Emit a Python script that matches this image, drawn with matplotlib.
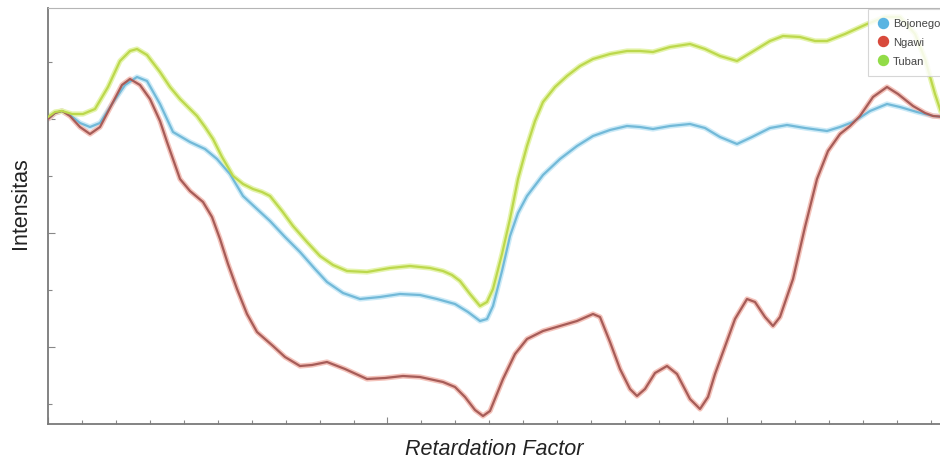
import matplotlib
matplotlib.use("Agg")
import matplotlib.pyplot as plt
from matplotlib.lines import Line2D
from matplotlib.ticker import FixedLocator, NullFormatter
import numpy as np

# Kromatogram tiga daerah (satuan sembarang)
rf_bojonegoro = [0, 7, 14, 22, 32, 42, 52, 64, 77, 89, 99, 112, 125, 142, 157, 169, 182, 195,
                 209, 222, 237, 252, 267, 279, 295, 312, 332, 352, 372, 389, 407, 420, 432,
                 439, 445, 454, 462, 470, 479, 495, 512, 529, 545, 562, 579, 592, 605, 622,
                 642, 657, 672, 689, 704, 722, 739, 757, 779, 792, 805, 822, 839, 852, 869,
                 885, 897]
int_bojonegoro = [305, 311, 313, 309, 301, 297, 301, 320, 339, 347, 343, 320, 292, 282, 275,
                  265, 250, 228, 215, 203, 187, 172, 155, 142, 131, 125, 127, 130, 129, 125,
                  120, 112, 103, 105, 118, 153, 188, 211, 228, 249, 265, 278, 288, 294, 298,
                  297, 295, 298, 300, 296, 287, 280, 287, 296, 299, 296, 293, 297, 302, 313,
                  320, 317, 312, 308, 307]

rf_ngawi = [0, 7, 14, 22, 32, 42, 52, 64, 74, 82, 92, 102, 112, 119, 132, 142, 155, 164, 172,
            180, 189, 199, 209, 217, 225, 237, 252, 264, 279, 297, 319, 337, 355, 372, 395,
            407, 417, 427, 435, 442, 455, 467, 479, 495, 512, 529, 545, 552, 562, 572, 582,
            589, 597, 607, 619, 629, 642, 652, 660, 667, 675, 687, 699, 707, 717, 725, 732,
            745, 757, 769, 780, 792, 802, 812, 825, 839, 850, 865, 877, 885, 897]
int_ngawi = [305, 311, 313, 308, 297, 290, 297, 320, 339, 345, 339, 325, 303, 282, 245, 233,
             222, 207, 185, 160, 135, 110, 92, 85, 78, 67, 58, 59, 62, 55, 45, 46, 48, 47, 42,
             37, 27, 14, 8, 13, 45, 70, 85, 93, 98, 103, 110, 107, 82, 55, 35, 28, 35, 51, 58,
             50, 25, 15, 27, 50, 72, 105, 125, 122, 107, 98, 107, 145, 197, 245, 273, 290, 298,
             308, 327, 337, 330, 318, 311, 308, 307]

rf_tuban = [0, 7, 14, 24, 35, 47, 60, 72, 82, 89, 99, 112, 122, 132, 149, 157, 165, 174, 185,
            195, 205, 214, 222, 234, 245, 259, 272, 285, 299, 319, 342, 362, 382, 395, 404,
            412, 422, 432, 439, 445, 454, 462, 470, 479, 487, 495, 507, 519, 532, 545, 562,
            579, 592, 605, 622, 642, 657, 672, 689, 704, 722, 735, 752, 767, 779, 797, 819,
            837, 852, 867, 877, 887, 897]
int_tuban = [307, 312, 313, 310, 310, 315, 337, 363, 373, 375, 369, 352, 337, 325, 308, 297,
             285, 267, 248, 240, 235, 232, 228, 213, 198, 182, 168, 159, 153, 152, 156, 158,
             156, 153, 149, 143, 130, 118, 122, 135, 170, 205, 245, 278, 303, 322, 337, 348,
             358, 365, 370, 373, 373, 372, 377, 380, 375, 368, 363, 372, 383, 388, 387, 383,
             383, 390, 400, 407, 407, 390, 365, 330, 300]

seri = [
    ("Bojonegoro", rf_bojonegoro, int_bojonegoro, "#72b9d8", "#cbeaf7", "#5ab4e2"),
    ("Ngawi", rf_ngawi, int_ngawi, "#a65c58", "#f4c3bb", "#d84a3c"),
    ("Tuban", rf_tuban, int_tuban, "#bcd84c", "#e5f4ad", "#92dc48"),
]

FONT_LABEL = ["Liberation Sans", "DejaVu Sans"]

fig = plt.figure(figsize=(9.4, 4.64), dpi=100)
ax = fig.add_axes([48 / 940, 39 / 464, 912 / 940, 416 / 464])

for nama, x, y, inti, halo, _ in seri:
    assert len(x) == len(y), nama
    ax.plot(x, y, color=halo, lw=3.8, solid_joinstyle="round", solid_capstyle="round", zorder=2)
    ax.plot(x, y, color=inti, lw=1.6, solid_joinstyle="round", solid_capstyle="round", zorder=3)

ax.set_xlim(0, 912)
ax.set_ylim(0, 416)

ax.xaxis.set_major_locator(FixedLocator(np.arange(0, 912, 339.5)))
ax.xaxis.set_minor_locator(FixedLocator(np.arange(0, 912, 33.95)))
ax.yaxis.set_major_locator(FixedLocator(np.arange(77, 416, 114)))
ax.yaxis.set_minor_locator(FixedLocator(np.arange(20, 416, 114)))
ax.xaxis.set_major_formatter(NullFormatter())
ax.yaxis.set_major_formatter(NullFormatter())
ax.tick_params(which="both", direction="in", color="#888888", width=0.8)
ax.tick_params(which="major", length=5)
ax.tick_params(which="minor", length=3)
ax.tick_params(axis="both", which="both", top=False, right=False)

for lado in ("left", "bottom"):
    ax.spines[lado].set_color("#7a7a7a")
    ax.spines[lado].set_linewidth(1.3)
ax.spines["top"].set_color("#b5b5b5")
ax.spines["top"].set_linewidth(0.8)
ax.spines["right"].set_visible(False)

ax.set_xlabel("Retardation Factor", family=FONT_LABEL, fontsize=15.5, style="italic",
              color="#222222", va="center")
ax.xaxis.set_label_coords((494 - 48) / 912, (425 - 450) / 416)
ax.set_ylabel("Intensitas", family=FONT_LABEL, fontsize=15.5, color="#222222", va="center")
ax.yaxis.set_label_coords((20 - 48) / 912, (425 - 203) / 416)

handles = [Line2D([], [], ls="none", marker="o", markersize=7.2, markerfacecolor=mk,
                  markeredgecolor=mk, label=nama) for nama, _, _, _, _, mk in seri]
leg = fig.legend(handles=handles, loc="upper left", bbox_to_anchor=(868 / 940, 1 - 10 / 464),
                 bbox_transform=fig.transFigure, borderaxespad=0, frameon=True, fancybox=False,
                 framealpha=0.85, edgecolor="#cfcfcf", labelspacing=0.8,
                 handletextpad=0.4, handlelength=1.0, borderpad=0.85,
                 prop={"family": ["Liberation Sans", "DejaVu Sans"], "size": 8})
leg.get_frame().set_linewidth(0.8)
for t in leg.get_texts():
    t.set_color("#444444")

fig.savefig("out.png", dpi=100, facecolor="white")
